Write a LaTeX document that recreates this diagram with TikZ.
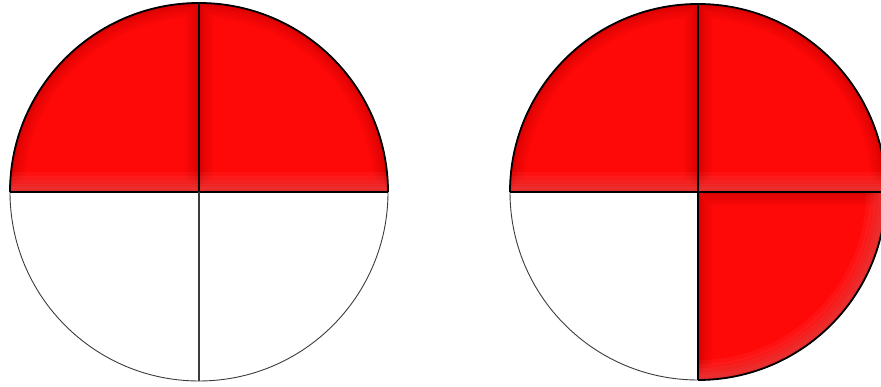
\documentclass[tikz,border=0pt]{standalone}
\usetikzlibrary{calc}
\begin{document}
\begin{tikzpicture}[x=1pt,y=1pt,
  qred/.style={fill={rgb,255:red,255;green,8;blue,8}},
  thinline/.style={draw={rgb,255:red,60;green,60;blue,60},line width=0.9},
  thickline/.style={draw=black,line width=1.8},
  dk/.style={draw={rgb,255:red,90;green,0;blue,0},opacity=0.04,line width=#1},
  lt/.style={draw={rgb,255:red,255;green,120;blue,120},opacity=0.09,line width=#1}]
\useasboundingbox (0,0) rectangle (881,387);
\fill[white] (0,0) rectangle (881,387);
\coordinate (L) at (199,195);
\coordinate (R) at (698,195);
\def\rl{189}
\def\rr{188}
% soft bevel along a quadrant outline (inside the clip)
\newcommand\bevelpath[1]{%
  \foreach \w in {28,22,16,11,7,4} {\draw[dk=\w] #1;}}
% ---------- left circle ----------
\draw[thinline] (L) circle[radius=\rl];
\begin{scope}
  \clip (L) -- ++(180:\rl) arc[start angle=180,end angle=90,radius=\rl] -- cycle;
  \fill[qred] (L) circle[radius=\rl];
  \bevelpath{(L) -- ++(180:\rl) arc[start angle=180,end angle=90,radius=\rl] -- cycle}
  \foreach \w in {40,32,24,16,10} {\draw[lt=\w] ($(L)+(-\rl,0)$) -- (L);}
\end{scope}
\begin{scope}
  \clip (L) -- ++(0:\rl) arc[start angle=0,end angle=90,radius=\rl] -- cycle;
  \fill[qred] (L) circle[radius=\rl];
  \bevelpath{(L) -- ++(0:\rl) arc[start angle=0,end angle=90,radius=\rl] -- cycle}
  \foreach \w in {40,32,24,16,10} {\draw[lt=\w] ($(L)+(\rl,0)$) -- (L);}
\end{scope}
\draw[thickline] ($(L)+(-\rl,0)$) arc[start angle=180,end angle=0,radius=\rl];
\draw[thickline] ($(L)+(-\rl,0)$) -- ($(L)+(\rl,0)$);
\draw[thickline] (L) -- ++(90:\rl);
\draw[thinline,line width=1.3] (L) -- ++(-90:\rl);
% ---------- right circle ----------
\draw[thinline] (R) circle[radius=\rr];
\begin{scope}
  \clip (R) -- ++(180:\rr) arc[start angle=180,end angle=90,radius=\rr] -- cycle;
  \fill[qred] (R) circle[radius=\rr];
  \bevelpath{(R) -- ++(180:\rr) arc[start angle=180,end angle=90,radius=\rr] -- cycle}
  \foreach \w in {40,32,24,16,10} {\draw[lt=\w] ($(R)+(-\rr,0)$) -- (R);}
\end{scope}
\begin{scope}
  \clip (R) -- ++(0:\rr) arc[start angle=0,end angle=90,radius=\rr] -- cycle;
  \fill[qred] (R) circle[radius=\rr];
  \bevelpath{(R) -- ++(0:\rr) arc[start angle=0,end angle=90,radius=\rr] -- cycle}
  \foreach \w in {40,32,24,16,10} {\draw[lt=\w] ($(R)+(\rr,0)$) -- (R);}
\end{scope}
\begin{scope}
  \clip (R) -- ++(0:\rr) arc[start angle=0,end angle=-90,radius=\rr] -- cycle;
  \fill[qred] (R) circle[radius=\rr];
  \bevelpath{(R) -- ++(0:\rr) arc[start angle=0,end angle=-90,radius=\rr] -- cycle}
  \foreach \w in {40,32,24,16,10} {\draw[lt=\w] ($(R)+(\rr,0)$) arc[start angle=0,end angle=-90,radius=\rr];}
\end{scope}
\draw[thickline] ($(R)+(-\rr,0)$) arc[start angle=180,end angle=-90,radius=\rr];
\draw[thickline] ($(R)+(-\rr,0)$) -- ($(R)+(\rr,0)$);
\draw[thickline] ($(R)+(0,\rr)$) -- ($(R)+(0,-\rr)$);
\end{tikzpicture}
\end{document}
